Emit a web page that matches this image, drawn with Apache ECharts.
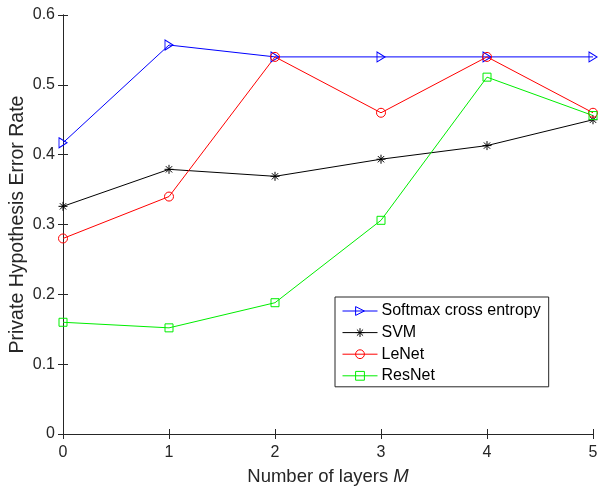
<!DOCTYPE html>
<html>
<head>
<meta charset="utf-8">
<script src="https://cdn.jsdelivr.net/npm/echarts@6/dist/echarts.min.js"></script>
<style>
html,body{margin:0;padding:0;background:#fff;}
#chart{width:598px;height:486px;}
</style>
</head>
<body>
<div id="chart"></div>
<script>
var layers = [0, 1, 2, 3, 4, 5];
var softmax = [0.417, 0.557, 0.540, 0.540, 0.540, 0.540];
var svm = [0.326, 0.379, 0.369, 0.3935, 0.413, 0.450];
var lenet = [0.280, 0.340, 0.540, 0.460, 0.540, 0.460];
var resnet = [0.160, 0.152, 0.188, 0.306, 0.511, 0.456];
var xTickLabels = ['0', '1', '2', '3', '4', '5'];
var yTickLabels = ['0', '0.1', '0.2', '0.3', '0.4', '0.5', '0.6'];
var seriesNames = ['Softmax cross entropy', 'SVM', 'LeNet', 'ResNet'];

var FONT = 'Liberation Sans, Arial, Helvetica, sans-serif';
var AX = '#262626';

function pts(arr) { return layers.map(function (x, i) { return [x, arr[i]]; }); }

var triPath = 'path://M0,0L10,6L0,12Z';
var starPath = 'path://M5,0L5,10M0,5L10,5M1.5,1.5L8.5,8.5M1.5,8.5L8.5,1.5';
var sqPath = 'path://M0,0L10,0L10,10L0,10Z';

var colors = ['#0000ff', '#000000', '#ff0000', '#00ee00'];
var symbols = [triPath, starPath, 'circle', sqPath];
var sizes = [[8, 10], 9, 9, 8];

function mk(i, arr) {
  return {
    name: seriesNames[i],
    type: 'line',
    data: pts(arr),
    symbol: symbols[i],
    symbolSize: sizes[i],
    showAllSymbol: true,
    lineStyle: { color: colors[i], width: 1 },
    itemStyle: { color: 'rgba(0,0,0,0)', borderColor: colors[i], borderWidth: 1 },
    emphasis: { disabled: true },
    animation: false
  };
}

var chart = echarts.init(document.getElementById('chart'), null, { renderer: 'canvas' });

var baseAxis = {
  axisLine: { show: true, lineStyle: { color: AX, width: 1 } },
  axisTick: { show: true, inside: true, length: 5, lineStyle: { color: AX } },
  splitLine: { show: false }
};

chart.setOption({
  backgroundColor: '#fff',
  animation: false,
  grid: { left: 63, right: 5, top: 15, bottom: 52, containLabel: false, outerBoundsMode: 'none' },
  xAxis: [
    Object.assign({}, baseAxis, {
      type: 'value', min: 0, max: 5, interval: 1, position: 'bottom',
      axisLabel: { color: AX, fontSize: 16, fontFamily: FONT, margin: 11,
        formatter: function (v) { return xTickLabels[Math.round(v)]; } },
      name: 'Number of layers {i|M}',
      nameLocation: 'middle', nameGap: 33,
      nameTextStyle: { color: AX, fontSize: 18.5, fontFamily: FONT,
        rich: { i: { fontStyle: 'italic', fontSize: 18.5, fontFamily: FONT, color: AX } } }
    }),
    Object.assign({}, baseAxis, {
      type: 'value', min: 0, max: 5, interval: 1, position: 'top',
      axisLabel: { show: false }
    })
  ],
  yAxis: [
    Object.assign({}, baseAxis, {
      type: 'value', min: 0, max: 0.6, interval: 0.1, position: 'left',
      axisLabel: { color: AX, fontSize: 16, fontFamily: FONT, margin: 8,
        formatter: function (v) { return yTickLabels[Math.round(v * 10)]; } },
      name: 'Private Hypothesis Error Rate',
      nameLocation: 'middle', nameGap: 35, nameMoveOverlap: false,
      nameTextStyle: { color: AX, fontSize: 19.5, fontFamily: FONT }
    }),
    Object.assign({}, baseAxis, {
      type: 'value', min: 0, max: 0.6, interval: 0.1, position: 'right',
      axisLabel: { show: false }
    })
  ],
  legend: {
    orient: 'vertical',
    left: 335, top: 297,
    padding: [4, 8, 1, 7],
    itemWidth: 35, itemHeight: 11,
    itemGap: 1.6,
    backgroundColor: '#fff',
    borderColor: AX, borderWidth: 1, borderRadius: 0,
    lineStyle: { width: 1 },
    textStyle: { color: '#000', fontSize: 16, fontFamily: FONT, lineHeight: 20, padding: [0,0,0,-1] },
    data: seriesNames.map(function (n, i) {
      return {
        name: n,
        itemStyle: { color: 'rgba(0,0,0,0)', borderColor: colors[i], borderWidth: 1 },
        lineStyle: { color: colors[i], width: 1 }
      };
    })
  },
  series: [
    mk(0, softmax),
    mk(1, svm),
    mk(2, lenet),
    mk(3, resnet)
  ]
});
</script>
</body>
</html>
